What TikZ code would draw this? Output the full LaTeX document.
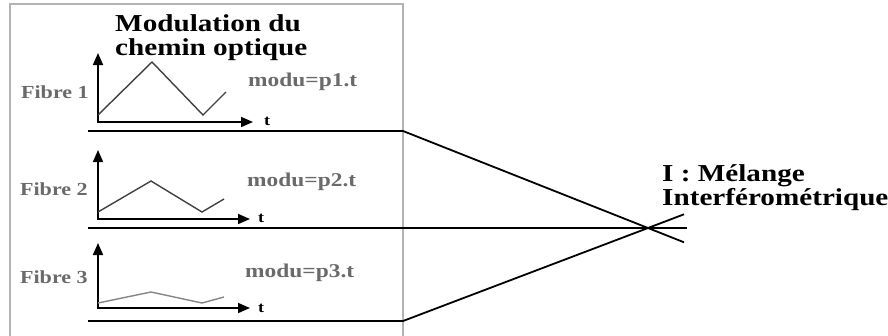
\documentclass[tikz,border=0pt]{standalone}
\usepackage{fontspec}
\setmainfont{Liberation Serif}
\usetikzlibrary{arrows.meta}
\definecolor{cadre}{HTML}{B4B4B4}
\definecolor{gristexte}{HTML}{6A6A6A}
\definecolor{grisonde}{HTML}{404040}
\definecolor{grisclair}{HTML}{858585}
\begin{document}
\begin{tikzpicture}[x=1pt, y=-1pt,
  texte/.style={inner sep=0pt, xscale=1.2, transform shape},
  grand/.style={texte, align=left, font=\fontsize{24.3}{24}\selectfont\bfseries},
  fibre/.style={texte, text=gristexte, font=\fontsize{18.4}{20}\selectfont\bfseries},
  modu/.style={texte, text=gristexte, font=\fontsize{19.5}{21}\selectfont\bfseries},
  temps/.style={texte, font=\fontsize{15}{17}\selectfont\bfseries},
  axe/.style={{Triangle[length=12pt,width=10pt]}-{Triangle[length=12pt,width=10pt]}, line width=1.7pt},
  onde/.style={line width=1.4pt, grisonde},
  ligne/.style={line width=1.8pt}]
\useasboundingbox (0,0) rectangle (888,335);
\draw[cadre, line width=1.2pt] (10,340) -- (10,4) -- (403,4) -- (403,340);
\node[grand, anchor=base west] (titre) at (115,55) {Modulation du\\chemin optique};
% fibre 1
\coordinate (o1) at (98,122);
\coordinate (y1) at (98,53);
\coordinate (x1) at (253,122);
\draw[axe] (y1) -- (o1) -- (x1);
\draw[onde] (98,115) -- (152,62) -- (203,115) -- (226,92);
\node[fibre, anchor=base east] (fib1) at (89,98) {Fibre 1};
\node[modu, anchor=base west] (modu1) at (248,86) {modu=p1.t};
\node[temps, anchor=base west] (t1) at (264,125) {t};
% fibre 2
\coordinate (o2) at (98,219);
\coordinate (y2) at (98,150);
\coordinate (x2) at (250,219);
\draw[axe] (y2) -- (o2) -- (x2);
\draw[onde] (98,212) -- (151,181) -- (202,212) -- (224,199);
\node[fibre, anchor=base east] (fib2) at (88,195) {Fibre 2};
\node[modu, anchor=base west] (modu2) at (247,186) {modu=p2.t};
\node[temps, anchor=base west] (t2) at (258,222) {t};
% fibre 3
\coordinate (o3) at (98,308);
\coordinate (y3) at (98,243);
\coordinate (x3) at (250,308);
\draw[axe] (y3) -- (o3) -- (x3);
\draw[onde, grisclair] (98,303) -- (151,292) -- (202,303) -- (224,297);
\node[fibre, anchor=base east] (fib3) at (88,283) {Fibre 3};
\node[modu, anchor=base west] (modu3) at (245,277) {modu=p3.t};
\node[temps, anchor=base west] (t3) at (258,312) {t};
% melange
\coordinate (a1) at (88,131);
\coordinate (b1) at (403,131);
\coordinate (a2) at (88,228);
\coordinate (b2) at (687,228);
\coordinate (a3) at (88,321);
\coordinate (b3) at (403,321);
\coordinate (croix) at (648,228);
\coordinate (e1) at (684,242.3);
\coordinate (e3) at (684,214.3);
\draw[ligne] (a1) -- (b1) -- (croix) -- (e1);
\draw[ligne] (a2) -- (b2);
\draw[ligne] (a3) -- (b3) -- (croix) -- (e3);
\node[grand, anchor=base west] (melange) at (662,205) {I : Mélange\\Interférométrique};
\end{tikzpicture}
\end{document}
